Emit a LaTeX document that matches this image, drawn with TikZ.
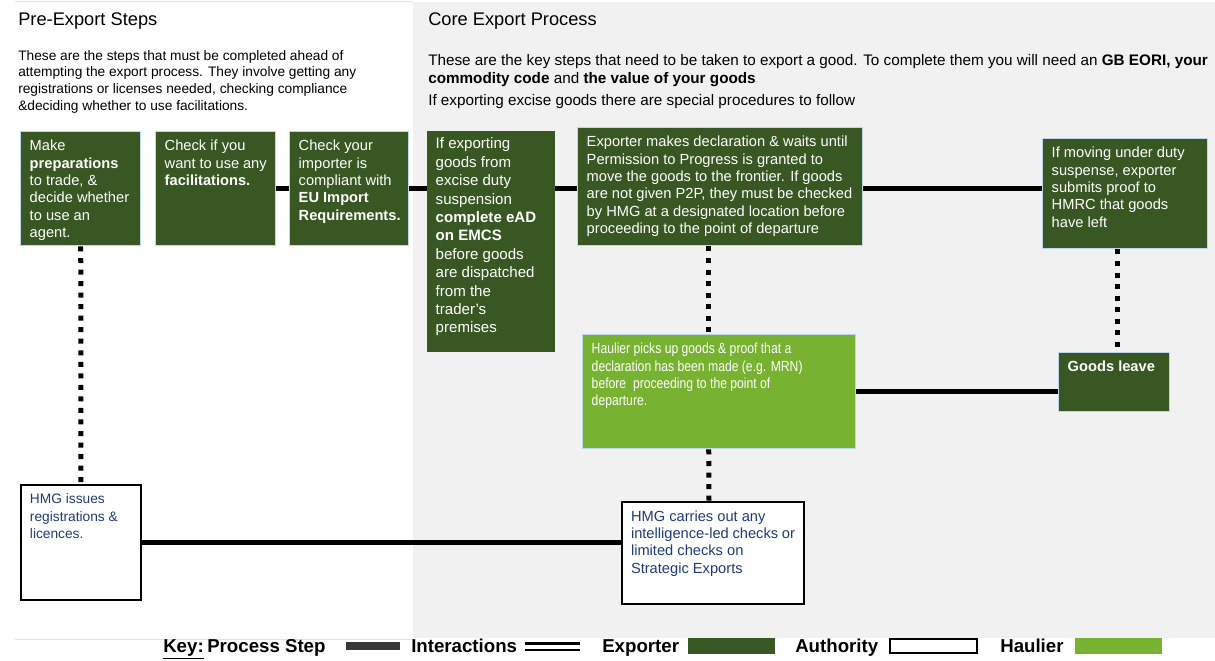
\documentclass[tikz,border=0pt]{standalone}
\usepackage{fontspec}
\setmainfont{Liberation Sans}
\newfontfamily\narrowfont[FakeStretch=0.83]{Liberation Sans}
\usepackage{tikz}
\usetikzlibrary{backgrounds}
\definecolor{exportgreen}{HTML}{385723}
\definecolor{haulgreen}{HTML}{77B230}
\definecolor{edgeblue}{HTML}{BDD7EE}
\definecolor{panelgray}{HTML}{F1F1F1}
\definecolor{authblue}{HTML}{1F3B7F}
\definecolor{keygray}{HTML}{383838}
\definecolor{rulegray}{HTML}{E2E2E2}
\newdimen\unitpx \unitpx=0.75pt
% fixed-size box, text set from the top
\newcommand{\boxtext}[3]{\parbox[c][\dimexpr#2\unitpx-14\unitpx\relax][t]{\dimexpr#1\unitpx-18\unitpx\relax}{\raggedright\strut#3}}

\begin{document}
\begin{tikzpicture}[
    x=0.75pt, y=-0.75pt,
    stepbox/.style={anchor=north west, inner xsep=6.75pt, inner ysep=5.25pt, line width=1.1pt, font=\fontsize{11pt}{13pt}\selectfont},
    exporter/.style={stepbox, fill=exportgreen, draw=edgeblue, text=white},
    haulier/.style={stepbox, fill=haulgreen, draw=edgeblue, text=white, font=\narrowfont\fontsize{11pt}{13pt}\selectfont},
    authority/.style={stepbox, fill=white, draw=black, line width=1.5pt, text=authblue},
    flow/.style={line width=3.75pt},
    link/.style={line width=3.75pt, dash pattern=on 3.75pt off 4.9pt},
    heading/.style={anchor=base west, inner sep=0pt, font=\fontsize{13.7pt}{16pt}\selectfont},
    blurb/.style={anchor=north west, inner sep=0pt, align=left},
    keytext/.style={anchor=base west, inner sep=0pt, font=\fontsize{14pt}{16pt}\selectfont\bfseries},
]
    \useasboundingbox (0,0) rectangle (1215,661);
    \begin{scope}[on background layer]
        \fill[white] (0,0) rectangle (1215,661);
        \fill[panelgray] (413,2) rectangle (1215,638);
        \draw[rulegray] (15,1.5) -- (413,1.5);
        \draw[rulegray] (15,639) -- (413,639);
    \end{scope}

    % headings
    \node[heading] (pretitle) at (18,25) {Pre-Export Steps};
    \node[heading] (coretitle) at (428,25) {Core Export Process};
    \node[blurb, font=\fontsize{10.3pt}{12.5pt}\selectfont] (preblurb) at (18,50)
        {These are the steps that must be completed ahead of\\attempting the export process. They involve getting any\\registrations or licenses needed, checking compliance\\\&deciding whether to use facilitations.};
    \node[blurb, font=\fontsize{11.45pt}{13.5pt}\selectfont] (coreblurb) at (428,54.5)
        {These are the key steps that need to be taken to export a good. To complete them you will need an \textbf{GB EORI, your}\\\textbf{commodity code} and \textbf{the value of your goods}\\[3pt]If exporting excise goods there are special procedures to follow};

    % steps
    \node[exporter] (prep) at (20,131) {\boxtext{120}{114}{Make\\\textbf{preparations}\\to trade, \&\\decide whether\\to use an\\agent.}};
    \node[exporter] (facil) at (155,131) {\boxtext{120}{114}{Check if you\\want to use any\\\textbf{facilitations.}}};
    \node[exporter] (importer) at (289,131) {\boxtext{119}{114}{Check your\\importer is\\compliant with\\\textbf{EU Import}\\\textbf{Requirements.}}};
    \node[exporter, draw=none, inner ysep=4pt, font=\fontsize{11.3pt}{13.8pt}\selectfont] (excise) at (426,130) {\boxtext{128}{225}{If exporting\\goods from\\excise duty\\suspension\\\textbf{complete eAD}\\\textbf{on EMCS}\\before goods\\are dispatched\\from the\\trader’s\\premises}};
    \node[exporter] (decl) at (577,127) {\boxtext{285}{118}{Exporter makes declaration \& waits until\\Permission to Progress is granted to\\move the goods to the frontier. If goods\\are not given P2P, they must be checked\\by HMG at a designated location before\\proceeding to the point of departure}};
    \node[exporter] (suspense) at (1042,138) {\boxtext{165}{110}{If moving under duty\\suspense, exporter\\submits proof to\\HMRC that goods\\have left}};
    \node[haulier] (pickup) at (582,334) {\boxtext{273}{114}{Haulier picks up goods \& proof that a\\declaration has been made (e.g. MRN)\\before\ \ proceeding to the point of\\departure.}};
    \node[exporter] (leave) at (1058,352) {\boxtext{111}{59}{\textbf{Goods leave}}};
    \node[authority, font=\fontsize{10.3pt}{12.8pt}\selectfont] (hmgreg) at (20,484) {\boxtext{120}{115}{HMG issues\\registrations \&\\licences.}};
    \node[authority] (hmgcheck) at (621,501) {\boxtext{182}{102}{HMG carries out any\\intelligence-led checks or\\limited checks on\\Strategic Exports}};

    % connectors
    \begin{scope}[on background layer]
        \draw[flow] (facil.east) -- (facil.east -| suspense.west);
        \draw[flow] (pickup.east) -- (pickup.east -| leave.west);
        \draw[flow] (hmgreg.east) -- (hmgreg.east -| hmgcheck.west);
        \draw[link] (prep.south) -- (hmgreg.north);
        \draw[link] ([shift={(-11.5,0)}]decl.south) -- ([shift={(-10.5,0)}]pickup.north);
        \draw[link] ([shift={(-10.5,0)}]pickup.south) -- ([shift={(-4,0)}]hmgcheck.north);
        \draw[link] ([shift={(-7.5,0)}]suspense.south) -- ([shift={(3.5,0)}]leave.north);
    \end{scope}

    % key
    \node[keytext] (keylabel) at (163,652.5) {\underline{Key:}};
    \node[keytext] (keystep) at (207,652.5) {Process Step};
    \fill[keygray] (346,642) rectangle (400,650);
    \node[keytext] (keyint) at (411,652.5) {Interactions};
    \draw[line width=1.9pt, double=white, double distance=3pt] (525,646.5) -- (580,646.5);
    \node[keytext] (keyexp) at (602,652.5) {Exporter};
    \fill[exportgreen] (688,638) rectangle (775,654);
    \node[keytext] (keyauth) at (795,652.5) {Authority};
    \draw[line width=1.3pt, fill=white] (890,639) rectangle (977,653);
    \node[keytext] (keyhaul) at (1000,652.5) {Haulier};
    \fill[haulgreen] (1075,638) rectangle (1162,654);
\end{tikzpicture}
\end{document}
